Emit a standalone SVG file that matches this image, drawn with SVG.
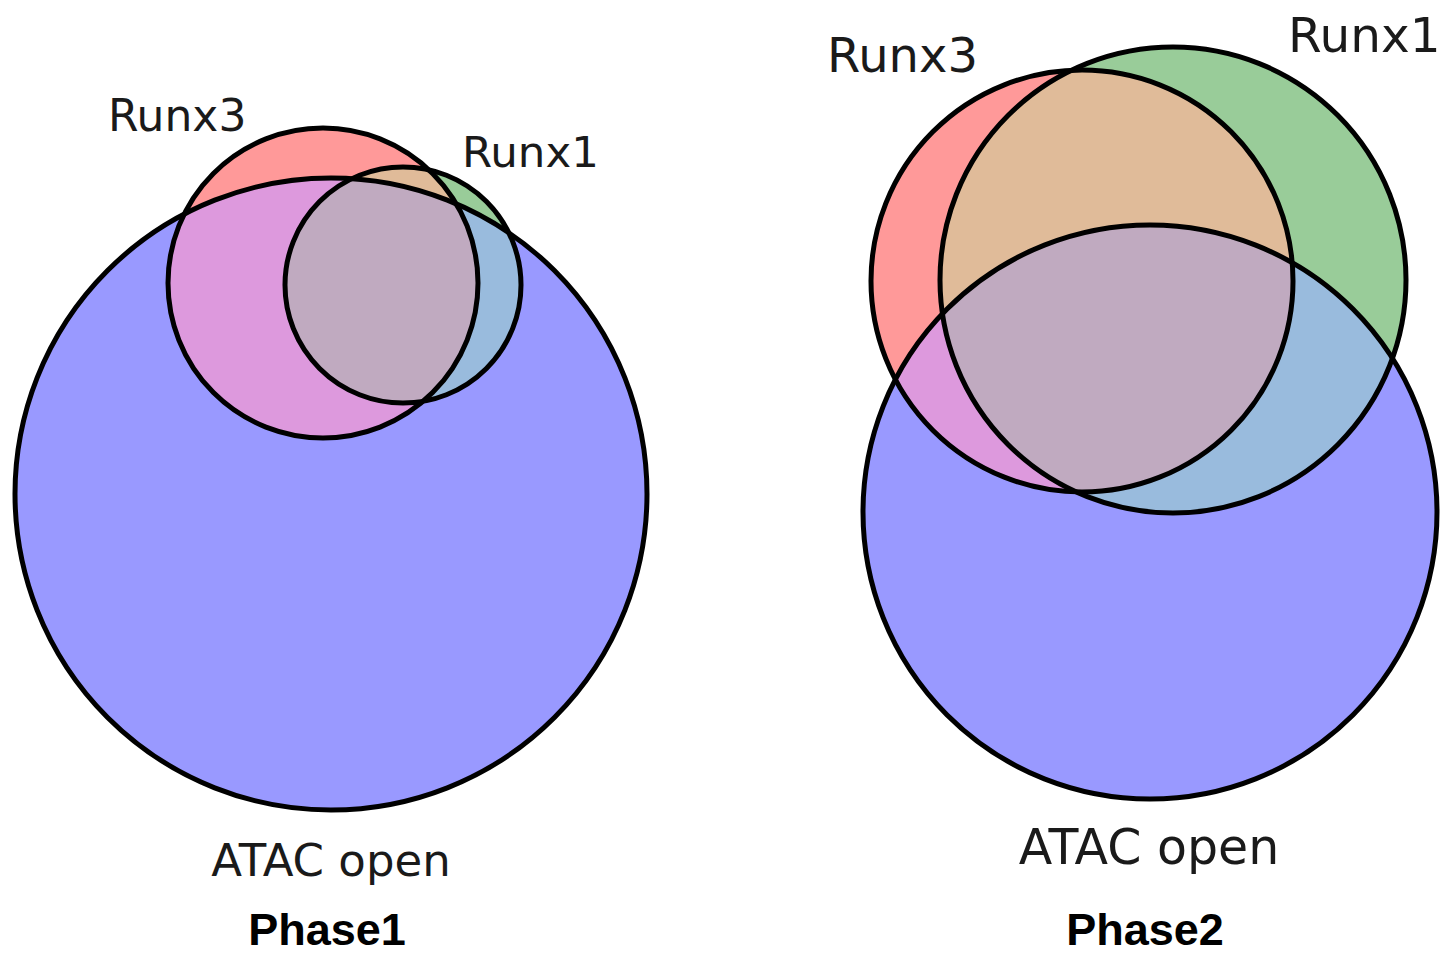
<svg xmlns="http://www.w3.org/2000/svg" width="1444" height="953" viewBox="0 0 1444 953">
<style>
.lbl{font-family:"DejaVu Sans",sans-serif;fill:#1a1a1a}
.ttl{font-family:"Liberation Sans",Arial,sans-serif;font-weight:bold;fill:#000}
.o{fill:none;stroke:#000;stroke-width:5}
.r{fill:#ff9999}.g{fill:#99cc99}.b{fill:#9999ff}
.rg{fill:#e0bb99}.rb{fill:#dd99dd}.gb{fill:#99bbdd}.rgb{fill:#c0aac0}
</style>
<defs>
<clipPath id="L_A"><circle cx="323" cy="283" r="155"/></clipPath>
<clipPath id="L_B"><circle cx="403" cy="285" r="118"/></clipPath>
<clipPath id="R_A"><circle cx="1082" cy="281" r="211"/></clipPath>
<clipPath id="R_B"><circle cx="1173" cy="280" r="233"/></clipPath>
</defs>
<rect width="1444" height="953" fill="#fff"/>
<g id="phase1">
<circle class="r" cx="323" cy="283" r="155"/>
<circle class="g" cx="403" cy="285" r="118"/>
<circle class="b" cx="331" cy="494" r="316"/>
<g clip-path="url(#L_A)"><circle class="rg" cx="403" cy="285" r="118"/></g>
<g clip-path="url(#L_A)"><circle class="rb" cx="331" cy="494" r="316"/></g>
<g clip-path="url(#L_B)"><circle class="gb" cx="331" cy="494" r="316"/></g>
<g clip-path="url(#L_A)"><g clip-path="url(#L_B)"><circle class="rgb" cx="331" cy="494" r="316"/></g></g>
<circle class="o" cx="331" cy="494" r="316"/>
<circle class="o" cx="323" cy="283" r="155"/>
<circle class="o" cx="403" cy="285" r="118"/>
<text class="lbl" x="108" y="131" font-size="44">Runx3</text>
<text class="lbl" x="462" y="167" font-size="43.5">Runx1</text>
<text class="lbl" x="331" y="876" font-size="45" text-anchor="middle">ATAC open</text>
<text class="ttl" x="327" y="945" font-size="45" text-anchor="middle">Phase1</text>
</g>
<g id="phase2">
<circle class="r" cx="1082" cy="281" r="211"/>
<circle class="g" cx="1173" cy="280" r="233"/>
<circle class="b" cx="1150" cy="512" r="287"/>
<g clip-path="url(#R_A)"><circle class="rg" cx="1173" cy="280" r="233"/></g>
<g clip-path="url(#R_A)"><circle class="rb" cx="1150" cy="512" r="287"/></g>
<g clip-path="url(#R_B)"><circle class="gb" cx="1150" cy="512" r="287"/></g>
<g clip-path="url(#R_A)"><g clip-path="url(#R_B)"><circle class="rgb" cx="1150" cy="512" r="287"/></g></g>
<circle class="o" cx="1150" cy="512" r="287"/>
<circle class="o" cx="1082" cy="281" r="211"/>
<circle class="o" cx="1173" cy="280" r="233"/>
<text class="lbl" x="827" y="72" font-size="48">Runx3</text>
<text class="lbl" x="1288" y="52" font-size="48.5">Runx1</text>
<text class="lbl" x="1149" y="864" font-size="49" text-anchor="middle">ATAC open</text>
<text class="ttl" x="1145" y="945" font-size="45" text-anchor="middle">Phase2</text>
</g>
</svg>
